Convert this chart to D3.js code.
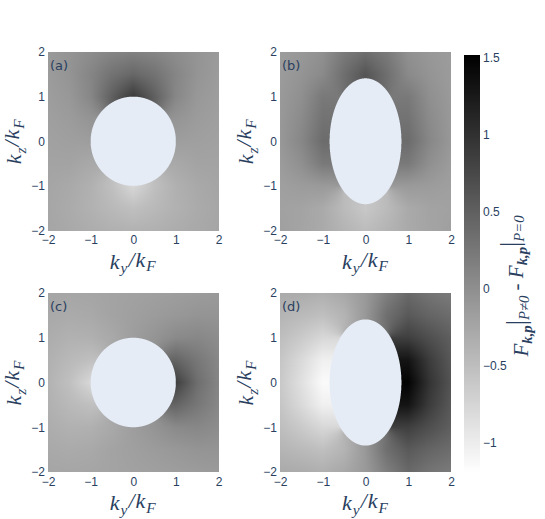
<!DOCTYPE html>
<html>
<head>
<meta charset="UTF-8">
<script src="https://d3js.org/d3.v7.min.js"></script>
<style>
  body { margin: 0; background: #fff; }
  svg { font-family: "DejaVu Sans", Verdana, sans-serif; }
  .tick text { fill: #2a3f5f; font-size: 12px; }
  .math { font-family: "Liberation Serif", "DejaVu Serif", serif; font-style: italic; fill: #2a3f5f; }
  .panel-label { fill: #2a3f5f; font-size: 13px; }
</style>
</head>
<body>
<svg id="chart" width="545" height="519"></svg>
<script>
// grid of the heatmaps (columns: ky, rows: kz from top to bottom)
const ky = [-2, -1.5, -1, -0.5, 0, 0.5, 1, 1.5, 2];
const kz = [2, 1.5, 1, 0.5, 0, -0.5, -1, -1.5, -2];
const axisTicks = [-2, -1, 0, 1, 2];
const colorTicks = [-1, -0.5, 0, 0.5, 1, 1.5];
const zRange = [-1.2, 1.52];
const panelNames = ["(a)", "(b)", "(c)", "(d)"];
// Fermi surface semi axes (ky, kz); inside is empty
const fermiRy = [1, 0.84, 1, 0.84];
const fermiRz = [1, 1.41, 1, 1.41];

const zA = [
  [-0.12, -0.06, 0.02, 0.10, 0.14, 0.10, 0.02, -0.06, -0.12],
  [-0.14, -0.06, 0.10, 0.30, 0.42, 0.30, 0.10, -0.06, -0.14],
  [-0.16, -0.10, 0.08, 0.50, 0.90, 0.50, 0.08, -0.10, -0.16],
  [-0.18, -0.14, -0.06, null, null, null, -0.06, -0.14, -0.18],
  [-0.20, -0.18, -0.16, null, null, null, -0.16, -0.18, -0.20],
  [-0.22, -0.22, -0.28, null, null, null, -0.28, -0.22, -0.22],
  [-0.24, -0.28, -0.36, -0.52, -0.78, -0.52, -0.36, -0.28, -0.24],
  [-0.25, -0.30, -0.37, -0.45, -0.52, -0.45, -0.37, -0.30, -0.25],
  [-0.24, -0.28, -0.32, -0.36, -0.38, -0.36, -0.32, -0.28, -0.24]
];
const zB = [
  [-0.14, -0.10, -0.02, 0.22, 0.34, 0.22, -0.02, -0.10, -0.14],
  [-0.14, -0.06, 0.05, 0.34, 0.62, 0.34, 0.05, -0.06, -0.14],
  [-0.12, -0.01, 0.23, null, null, null, 0.23, -0.01, -0.12],
  [-0.11, 0.04, 0.30, null, null, null, 0.30, 0.04, -0.11],
  [-0.10, 0.08, 0.37, null, null, null, 0.37, 0.08, -0.10],
  [-0.14, -0.01, 0.23, null, null, null, 0.23, -0.01, -0.14],
  [-0.18, -0.14, -0.12, null, null, null, -0.12, -0.14, -0.18],
  [-0.20, -0.22, -0.29, -0.47, -0.61, -0.47, -0.29, -0.22, -0.20],
  [-0.18, -0.23, -0.29, -0.40, -0.49, -0.40, -0.29, -0.23, -0.18]
];
const zC = [
  [-0.24, -0.25, -0.24, -0.22, -0.20, -0.18, -0.16, -0.14, -0.12],
  [-0.28, -0.30, -0.28, -0.22, -0.18, -0.14, -0.10, -0.06, -0.06],
  [-0.32, -0.37, -0.36, -0.28, -0.16, -0.06, 0.05, 0.08, 0.02],
  [-0.36, -0.45, -0.52, null, null, null, 0.45, 0.25, 0.08],
  [-0.38, -0.52, -0.78, null, null, null, 0.85, 0.35, 0.10],
  [-0.36, -0.45, -0.52, null, null, null, 0.45, 0.25, 0.08],
  [-0.32, -0.37, -0.36, -0.28, -0.16, -0.06, 0.05, 0.08, 0.02],
  [-0.28, -0.30, -0.28, -0.22, -0.18, -0.14, -0.10, -0.06, -0.06],
  [-0.24, -0.25, -0.24, -0.22, -0.20, -0.18, -0.16, -0.14, -0.12]
];
const zD = [
  [-0.29, -0.31, -0.35, -0.27, -0.12, 0.17, 0.40, 0.28, 0.21],
  [-0.40, -0.46, -0.52, -0.40, -0.10, 0.34, 0.57, 0.45, 0.36],
  [-0.50, -0.63, -0.78, null, null, null, 0.85, 0.68, 0.51],
  [-0.58, -0.80, -1.04, null, null, null, 1.31, 0.88, 0.58],
  [-0.61, -0.87, -1.15, null, null, null, 1.49, 0.97, 0.63],
  [-0.58, -0.80, -1.04, null, null, null, 1.31, 0.88, 0.58],
  [-0.50, -0.63, -0.78, null, null, null, 0.85, 0.68, 0.51],
  [-0.40, -0.46, -0.52, -0.40, -0.10, 0.34, 0.57, 0.45, 0.36],
  [-0.29, -0.31, -0.35, -0.27, -0.12, 0.17, 0.40, 0.28, 0.21]
];
const panelData = [zA, zB, zC, zD];

const svg = d3.select("#chart");
const bg = "#E5ECF6";
const color = d3.scaleLinear().domain(zRange).range(["#ffffff", "#000000"]);

// plot areas in pixels
const cols = [[48, 218.5], [280, 451]];
const rows = [[52, 230.5], [293, 472]];

const colIdx = d3.scaleLinear().domain([ky[0], ky[ky.length - 1]]).range([0, ky.length - 1]);
const rowIdx = d3.scaleLinear().domain([kz[0], kz[kz.length - 1]]).range([0, kz.length - 1]);

function valueAt(z, a, b) {
  // bilinear between grid nodes, skipping empty nodes
  const fx = colIdx(a), fy = rowIdx(b);
  const c0 = Math.max(0, Math.min(ky.length - 2, Math.floor(fx)));
  const r0 = Math.max(0, Math.min(kz.length - 2, Math.floor(fy)));
  const tx = fx - c0, ty = fy - r0;
  const pts = [[r0, c0, (1 - tx) * (1 - ty)], [r0, c0 + 1, tx * (1 - ty)],
               [r0 + 1, c0, (1 - tx) * ty], [r0 + 1, c0 + 1, tx * ty]];
  let s = 0, w = 0;
  pts.forEach(([r, c, wt]) => {
    if (z[r][c] != null) { s += z[r][c] * wt; w += wt; }
  });
  if (w > 1e-9) return s / w;
  let best = null, bd = Infinity;
  z.forEach((row, r) => row.forEach((v, c) => {
    if (v == null) return;
    const d = (r - fy) ** 2 + (c - fx) ** 2;
    if (d < bd) { bd = d; best = v; }
  }));
  return best;
}

function drawHeatmap(g, z, x, y, ry, rz) {
  const [px0, px1] = x.range();
  const [py1, py0] = y.range();
  const w = Math.round(px1 - px0), h = Math.round(py1 - py0);
  const canvas = document.createElement("canvas");
  canvas.width = w; canvas.height = h;
  const ctx = canvas.getContext("2d");
  const img = ctx.createImageData(w, h);
  const sub = 4;
  for (let j = 0; j < h; j++) {
    for (let i = 0; i < w; i++) {
      let out = 0;
      for (let si = 0; si < sub; si++) for (let sj = 0; sj < sub; sj++) {
        const a = x.invert(px0 + i + (si + 0.5) / sub);
        const b = y.invert(py0 + j + (sj + 0.5) / sub);
        if ((a / ry) ** 2 + (b / rz) ** 2 >= 1) out++;
      }
      const k = (j * w + i) * 4;
      if (out === 0) { img.data[k + 3] = 0; continue; }
      const a = x.invert(px0 + i + 0.5), b = y.invert(py0 + j + 0.5);
      const c = d3.rgb(color(valueAt(z, a, b)));
      img.data[k] = c.r; img.data[k + 1] = c.g; img.data[k + 2] = c.b;
      img.data[k + 3] = Math.round(255 * out / (sub * sub));
    }
  }
  ctx.putImageData(img, 0, 0);
  g.append("rect").attr("x", px0).attr("y", py0).attr("width", w).attr("height", h).attr("fill", bg);
  g.append("image").attr("x", px0).attr("y", py0).attr("width", w).attr("height", h)
    .attr("preserveAspectRatio", "none").attr("href", canvas.toDataURL());
}

function mathText(sel, parts) {
  // parts: [text, kind] kind: "n" italic, "s" subscript, "b" bold subscript, "u" upright, "bar"
  let shifted = false;
  parts.forEach(([t, kind]) => {
    const isSub = kind === "s" || kind === "b";
    const ts = sel.append("tspan").text(t);
    if (isSub && !shifted) { ts.attr("dy", "0.3em"); shifted = true; }
    else if (!isSub && shifted) { ts.attr("dy", "-0.3em"); shifted = false; }
    if (isSub) ts.attr("font-size", "70%");
    if (kind === "b") ts.attr("font-weight", "bold");
    if (kind === "u") ts.attr("font-style", "normal");
    if (kind === "bar") ts.attr("font-style", "normal").attr("font-size", "125%");
  });
}

panelData.forEach((z, p) => {
  const [x0, x1] = cols[p % 2];
  const [y0, y1] = rows[Math.floor(p / 2)];
  const x = d3.scaleLinear().domain([-2, 2]).range([x0, x1]);
  const y = d3.scaleLinear().domain([-2, 2]).range([y1, y0]);
  const g = svg.append("g");
  drawHeatmap(g, z, x, y, fermiRy[p], fermiRz[p]);

  const xa = g.append("g").attr("transform", `translate(0,${y1})`)
    .call(d3.axisBottom(x).tickValues(axisTicks).tickSize(0).tickPadding(5).tickFormat(d3.format("d")));
  const ya = g.append("g").attr("transform", `translate(${x0},0)`)
    .call(d3.axisLeft(y).tickValues(axisTicks).tickSize(0).tickPadding(3).tickFormat(d3.format("d")));
  [xa, ya].forEach(a => a.select(".domain").remove());

  g.append("text").attr("class", "panel-label").attr("x", x0 + 2).attr("y", y0 + 18).text(panelNames[p]);

  const xt = g.append("text").attr("class", "math").attr("font-size", 22).attr("letter-spacing", 1)
    .attr("text-anchor", "middle").attr("x", (x0 + x1) / 2).attr("y", y1 + 38);
  mathText(xt, [["k", "n"], ["y", "s"], ["/", "n"], ["k", "n"], ["F", "s"]]);

  const yt = g.append("text").attr("class", "math").attr("font-size", 22).attr("letter-spacing", 1)
    .attr("text-anchor", "middle")
    .attr("transform", `translate(${x0 - 27},${(y0 + y1) / 2}) rotate(-90)`);
  mathText(yt, [["k", "n"], ["z", "s"], ["/", "n"], ["k", "n"], ["F", "s"]]);
});

// colorbar
const cb = { x: 464, w: 16, top: 55, bottom: 473 };
const cy = d3.scaleLinear().domain(zRange).range([cb.bottom, cb.top]);
const grad = svg.append("defs").append("linearGradient").attr("id", "cbgrad")
  .attr("x1", "0%").attr("x2", "0%").attr("y1", "100%").attr("y2", "0%");
grad.selectAll("stop").data(zRange).join("stop")
  .attr("offset", (d, i) => i * 100 + "%").attr("stop-color", d => color(d));
svg.append("rect").attr("x", cb.x).attr("y", cb.top).attr("width", cb.w)
  .attr("height", cb.bottom - cb.top).attr("fill", "url(#cbgrad)");
const ca = svg.append("g").attr("transform", `translate(${cb.x + cb.w},0)`)
  .call(d3.axisRight(cy).tickValues(colorTicks).tickSize(0).tickPadding(3).tickFormat(d3.format("~g")));
ca.select(".domain").remove();

const ct = svg.append("text").attr("class", "math").attr("font-size", 21)
  .attr("text-anchor", "middle").attr("transform", "translate(528,286) rotate(-90)");
mathText(ct, [["F", "n"], ["k,p", "b"], ["|", "bar"], ["P≠0", "s"], [" - ", "u"],
              ["F", "n"], ["k,p", "b"], ["|", "bar"], ["P=0", "s"]]);
</script>
</body>
</html>
